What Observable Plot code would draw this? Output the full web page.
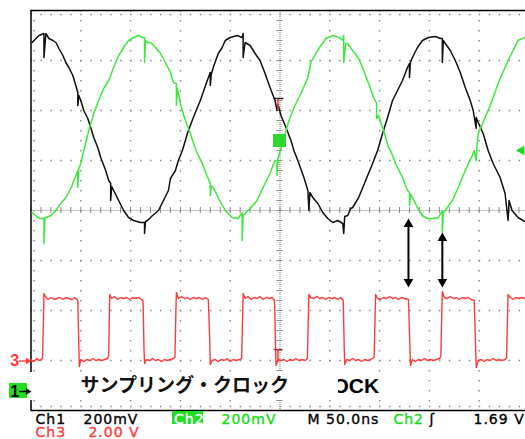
<!DOCTYPE html>
<html>
<head>
<meta charset="utf-8">
<script src="https://cdn.jsdelivr.net/npm/d3@7"></script>
<script src="https://cdn.jsdelivr.net/npm/@observablehq/plot@0.6"></script>
<style>
  html, body { margin: 0; padding: 0; background: #fff; }
  g[font-family="DejaVu Sans"] text { letter-spacing: 1px; }
</style>
</head>
<body>
<div id="chart"></div>
<script>
// ---- Data (time in ns from left graticule edge) ----
// Ch1: [time ns, mV]  (200 mV/div)
const ch1 = [[1,1400],[3,1408],[8,1428],[13,1436],[13,1340],[15,1436],[18,1416],[22,1408],[25,1400],[28,1376],[32,1348],[35,1320],[38,1300],[42,1268],[45,1228],[47,1200],[47,1148],[48,1188],[50,1168],[53,1128],[57,1096],[60,1060],[63,1020],[67,980],[70,940],[75,888],[78,848],[80,836],[80,768],[81,824],[83,808],[88,768],[93,728],[98,700],[103,688],[110,680],[114,680],[114,636],[115,684],[117,688],[122,708],[128,728],[133,768],[138,808],[140,856],[145,888],[148,928],[152,968],[155,1008],[157,1036],[163,1100],[170,1168],[177,1248],[180,1280],[180,1228],[181,1272],[183,1300],[188,1356],[192,1380],[195,1408],[200,1420],[207,1428],[212,1420],[213,1436],[213,1340],[215,1400],[220,1388],[225,1356],[230,1328],[235,1276],[240,1220],[245,1168],[247,1128],[248,1152],[251,1108],[256,1060],[261,1008],[264,968],[269,916],[274,860],[278,808],[279,728],[280,800],[283,780],[288,756],[293,720],[298,696],[303,680],[308,688],[313,676],[314,636],[315,704],[318,708],[321,736],[323,740],[329,780],[336,848],[343,916],[348,968],[353,1036],[358,1100],[363,1168],[368,1208],[373,1248],[378,1300],[380,1316],[380,1260],[381,1320],[383,1340],[388,1380],[393,1408],[399,1420],[406,1424],[411,1416],[413,1416],[413,1320],[414,1408],[416,1396],[421,1368],[426,1328],[431,1280],[436,1220],[441,1168],[444,1128],[447,1056],[447,1100],[449,1080],[454,1036],[459,968],[464,916],[471,860],[476,796],[479,688],[480,768],[483,728],[489,700],[494,688],[498,680]];

// Ch2: [time ns, mV]  (200 mV/div)
const ch2 = [[1,720],[7,700],[10,696],[13,696],[13,596],[14,700],[15,700],[20,708],[25,728],[30,756],[35,780],[40,816],[45,868],[47,888],[47,820],[48,896],[50,916],[53,968],[58,1048],[63,1116],[68,1168],[73,1216],[78,1248],[83,1300],[88,1348],[93,1380],[98,1408],[103,1420],[108,1428],[112,1420],[114,1420],[114,1320],[115,1408],[117,1400],[120,1400],[125,1380],[130,1356],[135,1320],[140,1280],[143,1240],[146,1236],[146,1148],[147,1216],[150,1156],[155,1088],[160,1036],[165,976],[167,956],[172,916],[177,864],[180,836],[180,788],[181,828],[183,820],[188,780],[195,728],[202,700],[208,696],[212,720],[212,608],[213,708],[215,716],[220,736],[227,768],[233,820],[240,876],[245,928],[247,928],[247,868],[248,936],[251,976],[254,1016],[258,1076],[264,1140],[271,1196],[278,1260],[281,1320],[286,1356],[291,1388],[296,1416],[303,1428],[309,1420],[313,1408],[314,1428],[314,1320],[316,1396],[318,1396],[323,1368],[329,1336],[334,1288],[339,1236],[344,1180],[347,1156],[347,1096],[349,1108],[354,1048],[359,980],[361,968],[366,916],[373,860],[378,808],[380,800],[380,748],[381,792],[383,780],[388,740],[393,708],[398,696],[403,696],[409,700],[413,728],[413,640],[414,720],[416,728],[423,768],[429,820],[436,888],[443,948],[445,968],[447,928],[448,996],[449,1036],[456,1100],[463,1168],[469,1236],[476,1300],[479,1328],[484,1368],[489,1408],[496,1420]];

// Ch3 sampling clock: [time ns, V]  (2.00 V/div)
const ch3 = [[0,0.04],[2,-0.04],[4,0.0],[6,0.08],[8,0.0],[10,0.04],[11.5,0.08],
[12.5,1.6],[13,2.68],[15,2.52],[17,2.44],[20,2.52],[23,2.44],[26,2.48],[29,2.52],[32,2.44],[35,2.52],[38,2.48],[41,2.44],[44,2.52],[46,2.44],
[47,2.4],[48,0.6],[48.5,-0.24],[50,0.04],[53,-0.04],[56,0.04],[59,0.0],[62,0.08],[65,0.0],[68,0.04],[71,0.0],[74,0.04],[77,0.08],
[78,0.2],[79,2.64],[81,2.48],[84,2.56],[87,2.44],[90,2.52],[93,2.48],[96,2.52],[99,2.44],[102,2.52],[105,2.48],[108,2.52],[111,2.44],[112.5,2.36],
[113.5,0.4],[114,-0.12],[116,0.04],[119,0.0],[122,0.08],[125,0.0],[128,0.04],[131,-0.04],[134,0.04],[137,0.0],[140,0.04],[143,0.08],[144.5,0.12],
[145.5,2.0],[146,2.72],[148,2.48],[151,2.56],[154,2.48],[157,2.52],[160,2.44],[163,2.52],[166,2.48],[169,2.52],[172,2.44],[175,2.52],[178,2.44],
[179.5,0.8],[180,-0.16],[182,0.0],[185,0.04],[188,-0.04],[191,0.04],[194,0.0],[197,0.08],[200,-0.04],[203,0.04],[206,0.0],[209,0.04],[211.5,0.08],
[212.5,1.8],[213,2.68],[215,2.48],[218,2.56],[221,2.44],[224,2.52],[227,2.48],[230,2.56],[233,2.44],[236,2.52],[239,2.48],[242,2.52],[244.5,2.4],
[245.5,0.6],[246,-0.2],[248,0.04],[251,0.0],[254,0.04],[257,-0.04],[260,0.04],[263,0.0],[266,0.08],[269,0.0],[272,0.04],[275,0.0],[277.5,0.08],
[278.5,1.8],[279,2.64],[281,2.52],[284,2.48],[287,2.56],[290,2.48],[293,2.52],[296,2.44],[299,2.52],[302,2.48],[305,2.52],[308,2.44],[311,2.52],[313.5,2.4],
[314.5,0.5],[315,-0.16],[317,0.04],[320,0.0],[323,0.08],[326,0.0],[329,0.04],[332,-0.04],[335,0.04],[338,0.0],[341,0.04],[344.5,0.12],
[345.5,1.8],[346,2.64],[348,2.48],[351,2.44],[354,2.52],[357,2.48],[360,2.56],[363,2.48],[366,2.52],[369,2.44],[372,2.52],[375,2.48],[379,2.44],
[380.5,0.5],[381,-0.2],[383,0.04],[386,-0.04],[389,0.04],[392,0.0],[395,0.08],[398,0.0],[401,0.04],[404,0.0],[407,0.04],[410,0.08],[411.5,0.16],
[412.5,2.0],[413,2.76],[415,2.52],[418,2.48],[421,2.56],[424,2.48],[427,2.52],[430,2.44],[433,2.52],[436,2.48],[439,2.52],[442,2.44],[445,2.4],
[446.5,0.4],[447,-0.28],[449,0.0],[452,0.04],[455,-0.04],[458,0.04],[461,0.0],[464,0.08],[467,0.0],[470,0.04],[473,0.0],[476,0.04],[477.5,0.12],
[478.5,1.8],[479,2.64],[481,2.52],[484,2.44],[487,2.52],[490,2.48],[493,2.52],[496,2.48]];

// Double-headed arrows marking clock edges (time ns, top/bottom in divisions)
const arrowTimes = [379, 413];
const arrowTops = [-0.16, -0.44];
const arrowBottoms = [-1.54, -1.54];

// Channel ground markers (label, level in div)
const groundLabels = ["3", "1"];
const groundLevels = [-3.01, -3.62];

// Texts
const statusRow1 = ["Ch1", "200mV", "Ch2", "200mV", "M 50.0ns", "Ch2", "ʃ", "1.69 V"];
const statusRow2 = ["Ch3", "2.00 V"];
const captionJa = "サンプリング・クロック";
const captionEn = "OCK";

// ---- Scope settings ----
const POS12 = -3.64;  // Ch1 / Ch2 ground position (div)
const POS3 = -3.0;    // Ch3 ground position (div)
const GRAY = "#8a8a8a";
const GREEN = "#3ee83e";
const GREEN_TXT = "#16dc16";
const RED = "#ff3a3a";

const arrows = arrowTimes.map((t, i) => ({t, top: arrowTops[i], bottom: arrowBottoms[i]}));
const grounds = groundLabels.map((l, i) => ({label: l, y: groundLevels[i], color: i === 0 ? RED : "black"}));
const minorX = d3.range(0, 497, 10);
const minorY = d3.range(-4, 4.001, 0.2);

const label = (text, t, y, color) =>
  Plot.text([text], {x: () => t, y: () => y, text: d => d, textAnchor: "start", lineAnchor: "bottom",
    fontFamily: "DejaVu Sans", fontSize: 14, fill: color, stroke: color, strokeWidth: 0.35});
const box = (x1, x2, y1, y2, fill) =>
  Plot.rect([0], {x1: () => x1, x2: () => x2, y1: () => y1, y2: () => y2, fill});

const chart = Plot.plot({
  width: 525,
  height: 439,
  marginLeft: 30.5,
  marginRight: 0,
  marginTop: 10,
  marginBottom: 29,
  x: {domain: [0, 496.5], axis: null},
  y: {domain: [-4, 4], axis: null},
  style: {background: "white", overflow: "visible"},
  marks: [
    // graticule
    Plot.ruleY([-3, -2, -1, 1, 2, 3], {stroke: GRAY, strokeDasharray: "1.5,8.46", strokeWidth: 1.4}),
    Plot.ruleX([50, 100, 150, 200, 300, 350, 400, 450], {stroke: GRAY, strokeDasharray: "1.5,8.5", strokeWidth: 1.4}),
    Plot.ruleY([3.92, -3.92], {stroke: GRAY, strokeDasharray: "1.5,8.46", strokeWidth: 1.4}),
    Plot.ruleX([3], {stroke: GRAY, strokeDasharray: "1.5,8.5", strokeWidth: 1.4}),
    Plot.ruleY([0], {stroke: GRAY, strokeDasharray: "1,1", strokeWidth: 1.2}),
    Plot.ruleX([250], {stroke: GRAY, strokeDasharray: "1,1", strokeWidth: 1.2}),
    Plot.ruleX(minorX, {x: d => d, y1: -0.06, y2: 0.06, stroke: GRAY}),
    Plot.ruleY(minorY, {y: d => d, x1: 247, x2: 253, stroke: GRAY}),
    Plot.ruleY([4, -4], {stroke: "black", strokeWidth: 1.5}),
    Plot.ruleX([0], {stroke: "black", strokeWidth: 1.5}),

    // waveforms
    Plot.line(ch3, {x: d => d[0], y: d => d[1] / 2 + POS3, stroke: RED, strokeWidth: 1.4}),
    Plot.line(ch1, {x: d => d[0], y: d => d[1] / 200 + POS12, stroke: "#111", strokeWidth: 1.5}),
    Plot.line(ch2, {x: d => d[0], y: d => d[1] / 200 + POS12, stroke: GREEN, strokeWidth: 1.5}),

    // trigger markers
    box(243.5, 256.5, 1.52, 1.26, "#2fd82f"),
    Plot.ruleY([2.24], {x1: 244, x2: 254, stroke: "#222", strokeWidth: 1.5}),
    Plot.ruleX([248], {y1: 2.22, y2: 2.0, stroke: RED, strokeWidth: 1.5}),
    Plot.ruleY([-2.78], {x1: 244, x2: 253, stroke: "#b02020", strokeWidth: 1.2}),
    Plot.ruleX([248], {y1: -2.78, y2: -3.04, stroke: RED, strokeWidth: 1.5}),
    Plot.dot([0], {x: () => 492.5, y: () => 1.2, symbol: "triangle", r: 3.6, rotate: -90, fill: GREEN_TXT, stroke: null}),

    // clock-edge arrows
    Plot.ruleX(arrows, {x: "t", y1: d => d.top - 0.1, y2: d => d.bottom + 0.1, stroke: "black", strokeWidth: 2}),
    Plot.dot(arrows, {x: "t", y: d => d.top - 0.113, symbol: "triangle", r: 3.6, fill: "black", stroke: null}),
    Plot.dot(arrows, {x: "t", y: d => d.bottom + 0.113, symbol: "triangle", r: 3.6, rotate: 180, fill: "black", stroke: null}),

    // caption overlay
    box(-0.6, 368, -3.24, -3.8, "white"),
    Plot.text([captionEn], {x: () => 302.7, y: () => -3.64, text: d => d, textAnchor: "start", lineAnchor: "bottom",
      fontFamily: "Liberation Sans", fontWeight: "bold", fontSize: 21, fill: "black"}),
    box(260.5, 308.7, -3.2, -3.8, "white"),
    Plot.text([captionJa], {x: () => 49.7, y: () => -3.62, text: d => d, textAnchor: "start", lineAnchor: "bottom",
      fontFamily: "Noto Sans CJK JP", fontWeight: "bold", fontSize: 19, fill: "#111"}),

    // channel ground markers
    box(-21.6, -3.5, -3.46, -3.76, "#22dd22"),
    Plot.text(grounds, {x: () => -20.8, y: d => d.y - 0.1, text: "label", fill: "color", textAnchor: "start", lineAnchor: "bottom",
      fontFamily: "Liberation Sans", fontWeight: "bold", fontSize: 16}),
    Plot.ruleY(grounds, {y: "y", x1: -11.5, x2: -3, stroke: "color", strokeWidth: 1.4}),
    Plot.dot(grounds, {x: () => -3.2, y: "y", symbol: "triangle", r: 2.4, rotate: 90, fill: "color", stroke: null}),

    // status bar
    box(142.1, 173.3, -4.02, -4.28, "#22dd22"),
    label(statusRow1[0], 4.5, -4.26, "black"),
    label(statusRow1[1], 52.7, -4.26, "black"),
    label(statusRow1[2], 143.6, -4.26, "white"),
    label(statusRow1[3], 191.3, -4.26, GREEN_TXT),
    label(statusRow1[4], 277.6, -4.26, "black"),
    label(statusRow1[5], 363.9, -4.26, GREEN_TXT),
    label(statusRow1[6], 400, -4.26, "black"),
    label(statusRow1[7], 444.3, -4.26, "black"),
    label(statusRow2[0], 4.5, -4.52, RED),
    label(statusRow2[1], 57.7, -4.52, RED)
  ]
});
document.getElementById("chart").appendChild(chart);
</script>
</body>
</html>
